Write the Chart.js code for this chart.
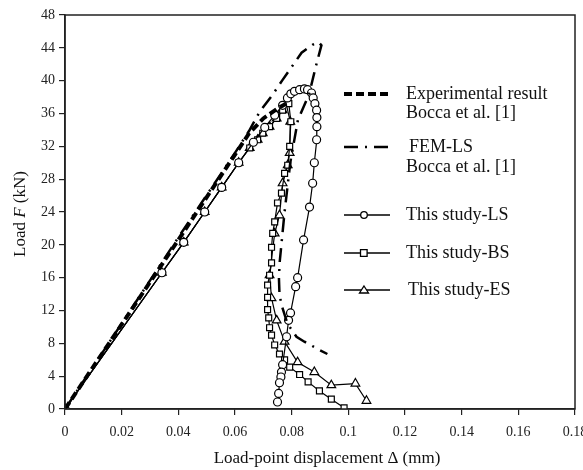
<!DOCTYPE html>
<html>
<head>
<meta charset="utf-8">
<script src="https://cdn.jsdelivr.net/npm/chart.js@4.4.1/dist/chart.umd.min.js"></script>
<style>
html, body { margin: 0; padding: 0; background: #fff; }
</style>
</head>
<body>
<canvas id="chart" width="583" height="470"></canvas>
<script>
// load (kN) vs load-point displacement (mm)
var expPoints = [[0, 0], [0.02, 10.3], [0.04, 20.6], [0.06, 31.0], [0.065, 33.6], [0.07, 35.4], [0.075, 36.6], [0.078, 37.2]];

var femPoints = [[0, 0], [0.02, 10.4], [0.04, 20.9], [0.06, 31.2], [0.065, 33.9], [0.0687, 36.2], [0.0733, 38.3],
    [0.0768, 40.1], [0.0835, 43.4], [0.0875, 44.4], [0.0895, 44.7], [0.0905, 44.3], [0.0885, 41.7], [0.0862, 38.4],
    [0.0822, 35.2], [0.0795, 30.0], [0.0775, 24.0], [0.0758, 18.0], [0.0755, 16.0], [0.0757, 14.0], [0.0764, 12.7],
    [0.0785, 10.4], [0.0817, 8.8], [0.0845, 8.2], [0.0898, 7.2], [0.0926, 6.7]];

var lsPoints = [[0, 0], [0.0342, 16.6], [0.0419, 20.3], [0.0493, 24.0], [0.0553, 27.0], [0.0613, 30.0], [0.0665, 32.5],
    [0.0705, 34.3], [0.074, 35.8], [0.0768, 37.0], [0.0785, 37.9], [0.0797, 38.4], [0.081, 38.7], [0.0828, 38.9],
    [0.0845, 39.0], [0.0856, 38.9], [0.087, 38.5], [0.0876, 37.9], [0.0882, 37.2], [0.0888, 36.4], [0.0889, 35.5],
    [0.0889, 34.4], [0.0888, 32.8], [0.088, 30.0], [0.0874, 27.5], [0.0863, 24.6], [0.0842, 20.6], [0.0821, 16.0],
    [0.0814, 14.9], [0.0796, 11.7], [0.0789, 10.8], [0.0782, 8.8], [0.0768, 5.4], [0.0764, 4.5], [0.0762, 3.9],
    [0.0757, 3.2], [0.0754, 1.9], [0.075, 0.85]];

var bsPoints = [[0, 0], [0.0342, 16.6], [0.0419, 20.3], [0.0493, 24.0], [0.0553, 27.0], [0.0613, 30.0], [0.0652, 31.8],
    [0.068, 32.8], [0.0698, 33.6], [0.0722, 34.4], [0.0747, 35.4], [0.0768, 36.4], [0.079, 37.2], [0.0797, 35.0],
    [0.0793, 32.0], [0.0786, 29.7], [0.0775, 28.7], [0.0764, 26.3], [0.075, 25.1], [0.074, 22.8], [0.0733, 21.4],
    [0.0729, 19.7], [0.0729, 17.8], [0.0722, 16.3], [0.0715, 15.1], [0.0715, 13.6], [0.0715, 12.1], [0.0719, 11.1],
    [0.0722, 9.9], [0.0729, 9.0], [0.074, 7.8], [0.0757, 6.7], [0.0775, 6.0], [0.0793, 5.1], [0.0828, 4.2],
    [0.0858, 3.3], [0.0898, 2.2], [0.094, 1.2], [0.0985, 0.15]];

var esPoints = [[0, 0], [0.0342, 16.6], [0.0419, 20.3], [0.0493, 24.0], [0.0553, 27.0], [0.0613, 30.0], [0.0652, 31.8],
    [0.068, 32.8], [0.0698, 33.6], [0.0722, 34.4], [0.0747, 35.4], [0.0768, 36.4], [0.078, 37.3], [0.0795, 35.0],
    [0.0793, 31.2], [0.0786, 29.7], [0.0768, 27.5], [0.0757, 23.6], [0.074, 21.4], [0.0722, 16.3], [0.0729, 13.5],
    [0.0747, 10.8], [0.0775, 8.2], [0.0821, 5.7], [0.088, 4.5], [0.094, 2.9], [0.1025, 3.1], [0.1064, 1.0]];

var xTicks = [0, 0.02, 0.04, 0.06, 0.08, 0.1, 0.12, 0.14, 0.16, 0.18];
var yTicks = [0, 4, 8, 12, 16, 20, 24, 28, 32, 36, 40, 44, 48];

var seriesNames = ['Experimental result', 'FEM-LS', 'This study-LS', 'This study-BS', 'This study-ES'];

function toXY(arr) {
    return arr.map(function (p) { return { x: p[0], y: p[1] }; });
}

var serif = "'Liberation Serif', 'Times New Roman', serif";

var markerBase = {
    borderColor: '#000',
    borderWidth: 1.2,
    pointRadius: 4,
    pointBorderWidth: 1.2,
    pointBackgroundColor: '#fff',
    pointBorderColor: '#000',
    tension: 0,
    fill: false
};

// legend + frame + axis titles drawn by hand
var decor = {
    id: 'decor',
    afterDraw: function (chart) {
        var ctx = chart.ctx;
        var a = chart.chartArea;
        ctx.save();
        ctx.strokeStyle = '#222';
        ctx.lineWidth = 1.5;
        ctx.strokeRect(a.left, a.top, a.right - a.left, a.bottom - a.top);

        ctx.fillStyle = '#111';
        ctx.font = '18px ' + serif;
        ctx.textBaseline = 'middle';
        ctx.textAlign = 'left';

        // legend samples
        var lx0 = 344, lx1 = 390, tx = 406;
        ctx.strokeStyle = '#000';
        ctx.lineWidth = 4;
        ctx.setLineDash([8, 4]);
        ctx.beginPath(); ctx.moveTo(lx0, 94); ctx.lineTo(lx1, 94); ctx.stroke();
        ctx.lineWidth = 2.5;
        ctx.setLineDash([14, 7, 2, 7]);
        ctx.beginPath(); ctx.moveTo(lx0, 147); ctx.lineTo(lx1, 147); ctx.stroke();
        ctx.setLineDash([]);
        ctx.lineWidth = 1.3;
        [215, 253, 290].forEach(function (y, i) {
            ctx.beginPath(); ctx.moveTo(lx0, y); ctx.lineTo(lx1, y); ctx.stroke();
            ctx.fillStyle = '#fff';
            ctx.beginPath();
            if (i === 0) {
                ctx.arc(364, y, 3.3, 0, Math.PI * 2);
            } else if (i === 1) {
                ctx.rect(360.5, y - 3.3, 6.6, 6.6);
            } else {
                ctx.moveTo(364, y - 4);
                ctx.lineTo(368.5, y + 3);
                ctx.lineTo(359.5, y + 3);
                ctx.closePath();
            }
            ctx.fill();
            ctx.stroke();
        });

        ctx.fillStyle = '#111';
        ctx.fillText(seriesNames[0], tx, 94);
        ctx.fillText('Bocca et al. [1]', tx, 113);
        ctx.fillText(seriesNames[1], tx + 3, 147);
        ctx.fillText('Bocca et al. [1]', tx, 167);
        ctx.fillText(seriesNames[2], tx, 215);
        ctx.fillText(seriesNames[3], tx, 253);
        ctx.fillText(seriesNames[4], tx + 2, 290);

        // x title
        ctx.font = '17px ' + serif;
        ctx.textAlign = 'center';
        ctx.fillText('Load-point displacement \u0394 (mm)', 327, 459);

        // y title with italic F
        ctx.translate(21, 214);
        ctx.rotate(-Math.PI / 2);
        var p1 = 'Load ', p2 = 'F', p3 = ' (kN)';
        ctx.font = '17px ' + serif;
        var w1 = ctx.measureText(p1).width, w3 = ctx.measureText(p3).width;
        ctx.font = 'italic 17px ' + serif;
        var w2 = ctx.measureText(p2).width;
        var x = -(w1 + w2 + w3) / 2;
        ctx.textAlign = 'left';
        ctx.font = '17px ' + serif;
        ctx.fillText(p1, x, 0);
        ctx.font = 'italic 17px ' + serif;
        ctx.fillText(p2, x + w1, 0);
        ctx.font = '17px ' + serif;
        ctx.fillText(p3, x + w1 + w2, 0);
        ctx.restore();
    }
};

var ctx = document.getElementById('chart').getContext('2d');
var chart = new Chart(ctx, {
    type: 'line',
    data: {
        datasets: [
            {
                label: seriesNames[0],
                data: toXY(expPoints),
                borderColor: '#000',
                borderWidth: 4,
                borderDash: [8, 4],
                pointRadius: 0,
                tension: 0,
                fill: false
            },
            {
                label: seriesNames[1],
                data: toXY(femPoints),
                borderColor: '#000',
                borderWidth: 2.5,
                borderDash: [14, 7, 2, 7],
                pointRadius: 0,
                tension: 0,
                fill: false
            },
            Object.assign({ label: seriesNames[2], data: toXY(lsPoints), pointStyle: 'circle' }, markerBase),
            Object.assign({ label: seriesNames[3], data: toXY(bsPoints), pointStyle: 'rect' }, markerBase, { pointRadius: 4.2 }),
            Object.assign({ label: seriesNames[4], data: toXY(esPoints), pointStyle: 'triangle' }, markerBase, { pointRadius: 5 })
        ]
    },
    options: {
        responsive: false,
        animation: false,
        layout: { padding: { top: 15, right: 8, left: 0, bottom: 0 } },
        plugins: {
            legend: { display: false },
            tooltip: { enabled: false }
        },
        scales: {
            x: {
                type: 'linear',
                min: 0,
                max: 0.18,
                afterFit: function (s) { s.height = 61; s.paddingLeft = 0; s.paddingRight = 0; },
                afterBuildTicks: function (s) { s.ticks = xTicks.map(function (v) { return { value: v }; }); },
                ticks: {
                    color: '#222',
                    padding: 9,
                    maxRotation: 0,
                    font: { family: serif, size: 14 },
                    callback: function (v) { return String(Number(v.toFixed(2))); }
                },
                grid: { drawOnChartArea: false, drawTicks: true, tickLength: 6, color: '#222', lineWidth: 1.2 },
                border: { display: true, color: '#222', width: 1.5 }
            },
            y: {
                min: 0,
                max: 48,
                afterFit: function (s) { s.width = 65; s.paddingTop = 0; s.paddingBottom = 0; },
                afterBuildTicks: function (s) { s.ticks = yTicks.map(function (v) { return { value: v }; }); },
                ticks: {
                    color: '#222',
                    padding: 4,
                    font: { family: serif, size: 14 }
                },
                grid: { drawOnChartArea: false, drawTicks: true, tickLength: 6, color: '#222', lineWidth: 1.2 },
                border: { display: true, color: '#222', width: 1.5 }
            }
        }
    },
    plugins: [decor]
});
</script>
</body>
</html>
